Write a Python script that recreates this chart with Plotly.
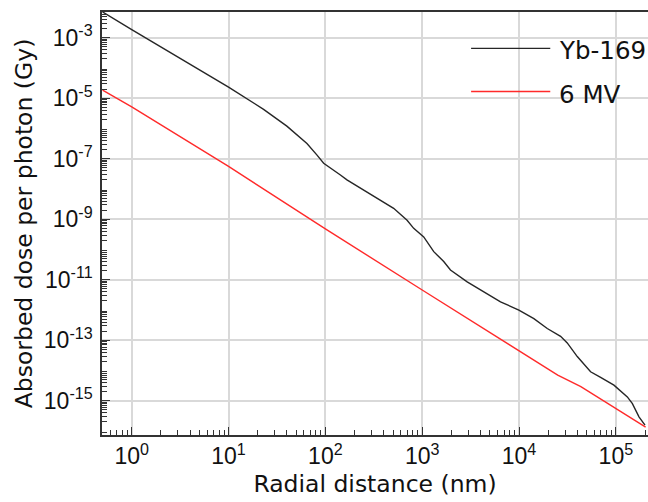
import plotly.graph_objects as go

# Yb-169 curve (black)
yb_x = [0.5, 1, 10, 23, 40, 64.5, 82, 96, 143, 167, 507, 698, 817, 1037, 1316,
        1668, 1958, 2914, 6440, 9960, 14230, 19570, 26860, 31480, 39960, 54830,
        69600, 95500, 131400, 148200, 173300, 200000]
yb_y = [7.1e-3, 1.86e-3, 2.34e-5, 4.3e-6, 1.2e-6, 3.2e-7, 1.32e-7, 7.1e-8, 2.9e-8,
        2.0e-8, 2.3e-9, 9.3e-10, 5.0e-10, 2.6e-10, 8.5e-11, 4.0e-11, 2.1e-11,
        8.5e-12, 1.86e-12, 1.0e-12, 5.2e-13, 2.45e-13, 1.35e-13, 8.2e-14, 2.9e-14,
        9.1e-15, 5.9e-15, 3.3e-15, 1.35e-15, 8.1e-16, 2.95e-16, 1.58e-16]

# 6 MV curve (red)
mv_x = [0.5, 1, 10, 100, 1000, 10000, 25100, 43500, 59700, 95500, 203000]
mv_y = [1.86e-5, 5.2e-6, 5.6e-8, 4.8e-10, 4.6e-12, 4.5e-14, 7.1e-15, 2.95e-15,
        1.55e-15, 6.3e-16, 1.35e-16]

series_names = ["Yb-169", "6 MV"]
series_colors = ["#262626", "#ff2a2a"]

x_exps = [0, 1, 2, 3, 4, 5]
y_labeled = [-3, -5, -7, -9, -11, -13, -15]
y_unlabeled = [-4, -6, -8, -10, -12, -14, -16]
y_range = [-16.13, -2.15]

tick_font = dict(family="Liberation Sans, Arial", size=23, color="#111")
title_font = dict(family="DejaVu Sans", size=23.5, color="#111")
grid = dict(showgrid=True, gridcolor="#d9d9d9", gridwidth=1.5)
major = dict(ticks="inside", ticklen=8, tickwidth=1.2, tickcolor="#333")

fig = go.Figure()
fig.add_trace(go.Scatter(x=yb_x, y=yb_y, mode="lines", name=series_names[0],
                         line=dict(color=series_colors[0], width=1.4)))
fig.add_trace(go.Scatter(x=mv_x, y=mv_y, mode="lines", name=series_names[1],
                         line=dict(color=series_colors[1], width=1.4)))

# minor ticks 2..9 in each decade
x_minor = [m * 10 ** e for e in range(-1, 6) for m in range(2, 10)]
y_minor = [m * 10.0 ** e for e in range(-17, -1) for m in range(2, 10)]

fig.update_layout(
    xaxis=dict(
        type="log", range=[-0.307, 5.332], automargin=False,
        tickmode="array", tickvals=[10 ** e for e in x_exps],
        ticktext=["10<sup>%d</sup>" % e for e in x_exps],
        minor=dict(tickmode="array", tickvals=x_minor, ticks="inside", ticklen=5,
                   tickwidth=1.2, tickcolor="#333", showgrid=False),
        showline=True, linecolor="#333", linewidth=1.5, mirror=True,
        zeroline=False, tickfont=tick_font,
        title=dict(text="Radial distance (nm)", font=title_font, standoff=7),
        **grid, **major,
    ),
    yaxis=dict(
        type="log", range=y_range, automargin=False,
        tickmode="array", tickvals=[10.0 ** e for e in y_labeled],
        ticktext=["10<sup>%d</sup>" % e for e in y_labeled],
        ticklabelstandoff=3,
        minor=dict(tickmode="array", tickvals=y_minor, ticks="inside", ticklen=5,
                   tickwidth=1.2, tickcolor="#333", showgrid=False),
        showline=True, linecolor="#333", linewidth=1.5,
        zeroline=False, tickfont=tick_font,
        title=dict(text="Absorbed dose per photon (Gy)", font=title_font, standoff=5),
        **grid, **major,
    ),
    # unlabeled decades: grid + major tick only
    yaxis2=dict(
        type="log", range=y_range, overlaying="y", side="left", automargin=False,
        tickmode="array", tickvals=[10.0 ** e for e in y_unlabeled],
        showticklabels=False, showline=False, zeroline=False,
        **grid, **major,
    ),
)

# hand-drawn legend (long line samples, no box)
leg_y = [0.914, 0.812]
for i in range(2):
    fig.add_shape(type="line", xref="paper", yref="paper",
                  x0=0.676, x1=0.821, y0=leg_y[i], y1=leg_y[i],
                  line=dict(color=series_colors[i], width=1.4))
    fig.add_annotation(xref="paper", yref="paper", x=0.833, y=leg_y[i] - 0.006,
                       text=series_names[i], showarrow=False, xanchor="left",
                       yanchor="middle",
                       font=dict(family="DejaVu Sans", size=24.5, color="#111"))

fig.update_layout(
    width=648, height=502,
    margin=dict(l=102, r=0, t=12, b=67),
    plot_bgcolor="white", paper_bgcolor="white",
    showlegend=False,
)

# page body has a default 8px margin, drop it so the figure sits at 0,0
fig.write_html("out.html", config={"displayModeBar": False},
               post_script="document.body.style.margin='0px';")
